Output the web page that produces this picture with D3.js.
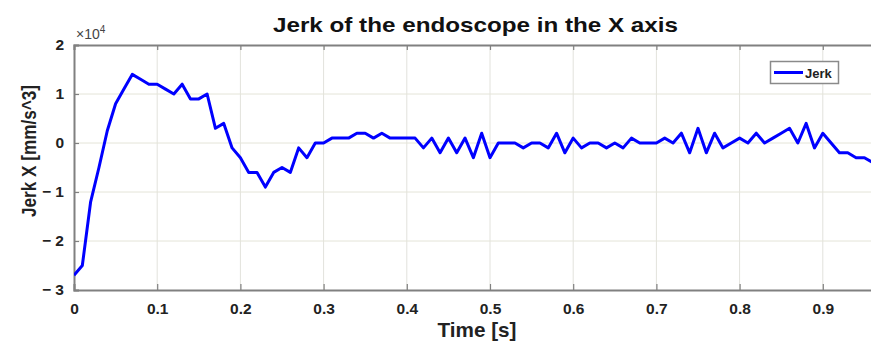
<!DOCTYPE html>
<html>
<head>
<meta charset="utf-8">
<script src="https://cdn.jsdelivr.net/npm/d3@7"></script>
<style>
  html, body { margin: 0; padding: 0; background: #fff; }
  svg { display: block; font-family: "Liberation Sans", Arial, sans-serif; }
</style>
</head>
<body>
<svg id="chart" width="871" height="345"></svg>
<script>
// Data (jerk in units of 1e4 mm/s^3)
const times = [0.00,0.01,0.02,0.03,0.04,0.05,0.06,0.07,0.08,0.09,
  0.10,0.11,0.12,0.13,0.14,0.15,0.16,0.17,0.18,0.19,
  0.20,0.21,0.22,0.23,0.24,0.25,0.26,0.27,0.28,0.29,
  0.30,0.31,0.32,0.33,0.34,0.35,0.36,0.37,0.38,0.39,
  0.40,0.41,0.42,0.43,0.44,0.45,0.46,0.47,0.48,0.49,
  0.50,0.51,0.52,0.53,0.54,0.55,0.56,0.57,0.58,0.59,
  0.60,0.61,0.62,0.63,0.64,0.65,0.66,0.67,0.68,0.69,
  0.70,0.71,0.72,0.73,0.74,0.75,0.76,0.77,0.78,0.79,
  0.80,0.81,0.82,0.83,0.84,0.85,0.86,0.87,0.88,0.89,
  0.90,0.91,0.92,0.93,0.94,0.95,0.96];
const jerkX = [-2.7,-2.5,-1.2,-0.5,0.25,0.8,1.1,1.4,1.3,1.2,
  1.2,1.1,1.0,1.2,0.9,0.9,1.0,0.3,0.4,-0.1,
  -0.3,-0.6,-0.6,-0.9,-0.6,-0.5,-0.6,-0.1,-0.3,0.0,
  0.0,0.1,0.1,0.1,0.2,0.2,0.1,0.2,0.1,0.1,
  0.1,0.1,-0.1,0.1,-0.2,0.1,-0.2,0.1,-0.3,0.2,
  -0.3,0.0,0.0,0.0,-0.1,0.0,0.0,-0.1,0.2,-0.2,
  0.1,-0.1,0.0,0.0,-0.1,0.0,-0.1,0.1,0.0,0.0,
  0.0,0.1,0.0,0.2,-0.2,0.3,-0.2,0.2,-0.1,0.0,
  0.1,0.0,0.2,0.0,0.1,0.2,0.3,0.0,0.4,-0.1,
  0.2,0.0,-0.2,-0.2,-0.3,-0.3,-0.4];
const xTicks = [0,0.1,0.2,0.3,0.4,0.5,0.6,0.7,0.8,0.9];
const yTicks = [-3,-2,-1,0,1,2];
const xTickLabels = ["0","0.1","0.2","0.3","0.4","0.5","0.6","0.7","0.8","0.9"];
const yTickLabels = ["\u2212 3","\u2212 2","\u2212 1","0","1","2"];
const titleText = "Jerk of the endoscope in the X axis";
const xLabel = "Time [s]";
const yLabel = "Jerk X [mm/s^3]";
const seriesName = "Jerk";

const svg = d3.select("#chart");
const L = 74, T = 45, B = 290, R = 906;
const x = d3.scaleLinear().domain([0, 1]).range([L, R]);
const y = d3.scaleLinear().domain([-3, 2]).range([B, T]);

svg.append("rect").attr("width", 871).attr("height", 345).attr("fill", "#fff");

// grid
const grid = svg.append("g");
grid.selectAll("line.gx").data(xTicks.slice(1)).enter().append("line")
  .attr("x1", d => x(d)).attr("x2", d => x(d)).attr("y1", T).attr("y2", B)
  .attr("stroke", "#e2e2dc").attr("stroke-width", 1);
grid.selectAll("line.gy").data(yTicks.slice(1, -1)).enter().append("line")
  .attr("x1", L).attr("x2", 871).attr("y1", d => y(d)).attr("y2", d => y(d))
  .attr("stroke", "#e4e4d8").attr("stroke-width", 1);

// axes
const xAxisB = d3.axisBottom(x).tickValues(xTicks).tickSize(-6).tickPadding(13)
  .tickFormat((d, i) => xTickLabels[i]);
const gxb = svg.append("g").attr("transform", `translate(0,${B})`).call(xAxisB);
const xAxisT = d3.axisTop(x).tickValues(xTicks).tickSize(-5).tickFormat("");
const gxt = svg.append("g").attr("transform", `translate(0,${T})`).call(xAxisT);
const yAxisL = d3.axisLeft(y).tickValues(yTicks).tickSize(-5).tickPadding(10)
  .tickFormat((d, i) => yTickLabels[i]);
const gyl = svg.append("g").attr("transform", `translate(${L},0)`).call(yAxisL);

[gxb, gxt, gyl].forEach(g => {
  g.select(".domain").attr("stroke", "#808080").attr("stroke-width", 2);
  g.selectAll(".tick line").attr("stroke", "#808080").attr("stroke-width", 1.2);
  g.selectAll(".tick text").attr("fill", "#222").attr("font-size", 15.5)
    .attr("font-weight", "bold").attr("font-family", "Liberation Sans, Arial, sans-serif");
});

// exponent label
const ex = svg.append("text").attr("x", 76).attr("y", 39).attr("fill", "#444")
  .attr("font-size", 14).attr("font-family", "Liberation Sans, Arial, sans-serif");
ex.append("tspan").text("\u00d710");
ex.append("tspan").attr("font-size", 10).attr("dy", -6).text("4");

// line
const clip = svg.append("clipPath").attr("id", "clip").append("rect")
  .attr("x", L).attr("y", T - 5).attr("width", 871 - L).attr("height", B - T + 10);
const line = d3.line().x((d, i) => x(times[i])).y(d => y(d));
svg.append("path").datum(jerkX).attr("d", line).attr("fill", "none")
  .attr("stroke", "#0000ff").attr("stroke-width", 3).attr("stroke-linejoin", "round")
  .attr("clip-path", "url(#clip)");

// title
svg.append("text").attr("x", 475.5).attr("y", 32).attr("text-anchor", "middle")
  .attr("font-size", 21).attr("font-weight", "bold").attr("fill", "#111")
  .attr("textLength", 405).attr("lengthAdjust", "spacingAndGlyphs").text(titleText);

// x label
svg.append("text").attr("x", 477).attr("y", 337).attr("text-anchor", "middle")
  .attr("font-size", 21).attr("font-weight", "bold").attr("fill", "#222")
  .attr("textLength", 79).attr("lengthAdjust", "spacingAndGlyphs").text(xLabel);

// y label
svg.append("text").attr("transform", "translate(36,151) rotate(-90)")
  .attr("text-anchor", "middle").attr("font-size", 21).attr("font-weight", "bold")
  .attr("fill", "#222").attr("textLength", 132).attr("lengthAdjust", "spacingAndGlyphs")
  .text(yLabel);

// legend
const lg = svg.append("g");
lg.append("rect").attr("x", 770.5).attr("y", 61.5).attr("width", 68).attr("height", 22)
  .attr("fill", "#fff").attr("stroke", "#8a8a8a").attr("stroke-width", 1.5);
lg.append("line").attr("x1", 774).attr("x2", 803).attr("y1", 72.5).attr("y2", 72.5)
  .attr("stroke", "#0000ff").attr("stroke-width", 3);
lg.append("text").attr("x", 805).attr("y", 77.5).attr("font-size", 13)
  .attr("font-weight", "bold").attr("fill", "#222").text(seriesName);
</script>
</body>
</html>
